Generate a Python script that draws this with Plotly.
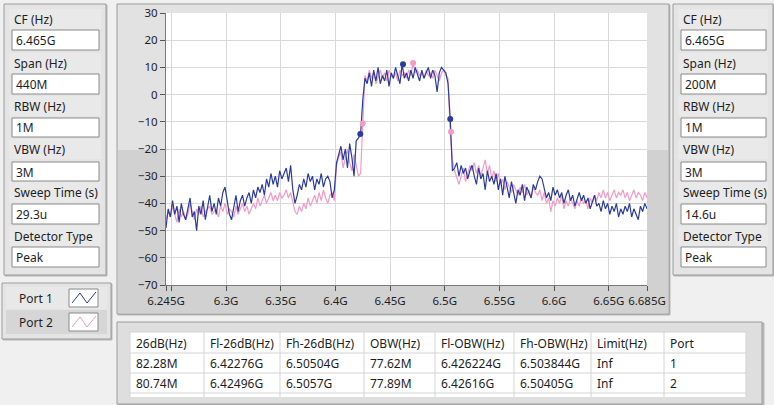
import plotly.graph_objects as go

W, H = 774, 405

# ---------------- data ----------------
f_start_ghz = 6.245
f_step_ghz = 0.002

port1_db = [
    -49, -42, -45, -39, -44, -41, -47, -40, -44, -46,
    -42, -38, -45, -43, -50, -41, -44, -39, -46, -42,
    -37, -43, -40, -44, -38, -41, -36, -34, -39, -44,
    -46, -41, -37, -43, -39, -37, -41, -38, -36, -40,
    -35, -38, -34, -36, -33, -37, -31, -34, -29, -33,
    -30, -34, -28, -31, -29, -27, -32, -26, -35, -40,
    -37, -33, -35, -31, -34, -29, -32, -30, -35, -31,
    -33, -29, -34, -31, -30, -32, -38, -35, -25, -22,
    -19, -24, -20, -27, -18, -23, -30, -17, -16, -14.5,
    -2, 6, 4, 8, 3, 9, 5, 10, 4, 7,
    5, 9, 3, 8, 6, 10, 7, 4, 11.2, 6,
    8, 5, 9, 6, 10, 7, 5, 9, 6, 8,
    10, 6, 9, 7, 1, 8, 10, 9, 8, 4,
    -9, -28, -27, -25, -30, -26, -29, -27, -31, -28,
    -26, -30, -33, -27, -31, -29, -35, -28, -32, -30,
    -33, -29, -35, -31, -37, -30, -34, -38, -32, -36,
    -40, -35, -37, -33, -39, -34, -36, -38, -33, -35,
    -32, -30, -31, -35, -38, -36, -39, -34, -37, -35,
    -38, -36, -40, -37, -35, -39, -37, -41, -38, -36,
    -39, -37, -40, -38, -42, -39, -37, -41, -40, -43,
    -39, -42, -40, -44, -41, -43, -40, -45, -42, -44,
    -41, -43, -40, -45, -42, -44, -46, -41, -43, -40, -42,
]

port2_db = [
    -46, -43, -45, -41, -44, -47, -42, -45, -43, -46,
    -44, -40, -43, -46, -42, -44, -41, -45, -43, -42,
    -41, -44, -43, -42, -45, -41, -43, -40, -44, -42,
    -43, -45, -41, -44, -42, -40, -43, -41, -44, -42,
    -40, -42, -38, -41, -39, -37, -40, -38, -36, -39,
    -37, -39, -36, -38, -37, -35, -38, -36, -40, -43,
    -44, -41, -43, -40, -42, -38, -41, -39, -37, -40,
    -36, -39, -35, -38, -40, -37, -36, -39, -26, -23,
    -21, -27, -23, -20, -25, -28, -22, -26, -30, -29,
    -10.6, 7, 5, 9, 6, 8, 4, 7, 9, 6,
    8, 5, 9, 7, 6, 8, 5, 9, 7, 8,
    6, 9, 7, 11.6, 8, 9, 7, 8, 6, 9,
    7, 8, 6, 9, 7, 5, 8, 9, 7, 6,
    -13.7, -24, -28, -31, -33, -30, -27, -32, -29, -26,
    -28, -25, -29, -26, -30, -27, -24, -29, -26, -31,
    -28, -32, -29, -33, -31, -35, -32, -34, -36, -33,
    -35, -37, -34, -36, -33, -37, -35, -38, -34, -36,
    -37, -35, -39, -36, -40, -38, -43, -39, -41, -38,
    -40, -37, -42, -39, -41, -38, -40, -42, -39, -41,
    -38, -40, -39, -42, -38, -40, -37, -39, -36, -38,
    -35, -38, -36, -39, -37, -35, -38, -36, -37, -35,
    -38, -36, -39, -37, -35, -38, -36, -37, -39, -36, -38,
]

port1_marker_ghz = [6.42276, 6.4618, 6.50504]
port1_marker_db = [-14.5, 11.2, -9]
port2_marker_ghz = [6.42496, 6.471, 6.5057]
port2_marker_db = [-10.6, 11.6, -13.7]

x_tick_vals = [6.245, 6.25, 6.3, 6.35, 6.4, 6.45, 6.5, 6.55, 6.6, 6.65, 6.685]
x_tick_text = ["6.245G", "", "6.3G", "6.35G", "6.4G", "6.45G", "6.5G", "6.55G", "6.6G", "6.65G", "6.685G"]
y_tick_vals = [30, 20, 10, 0, -10, -20, -30, -40, -50, -60, -70]

left_labels = ["CF (Hz)", "Span (Hz)", "RBW (Hz)", "VBW (Hz)", "Sweep Time (s)", "Detector Type"]
left_values = ["6.465G", "440M", "1M", "3M", "29.3u", "Peak"]
right_values = ["6.465G", "200M", "1M", "3M", "14.6u", "Peak"]

legend_names = ["Port 1", "Port 2"]

table_headers = ["26dB(Hz)", "Fl-26dB(Hz)", "Fh-26dB(Hz)", "OBW(Hz)", "Fl-OBW(Hz)", "Fh-OBW(Hz)", "Limit(Hz)", "Port"]
table_row1 = ["82.28M", "6.42276G", "6.50504G", "77.62M", "6.426224G", "6.503844G", "Inf", "1"]
table_row2 = ["80.74M", "6.42496G", "6.5057G", "77.89M", "6.42616G", "6.50405G", "Inf", "2"]

# ---------------- styling ----------------
BLUE = "#2c3c9e"
PINK = "#f49ac4"
FONT = "Noto Sans"
TXT = "#1e1e1e"


def X(px):
    return px / W


def Y(py):
    return 1 - py / H


shapes = []
annots = []


def rect(x0, y0, x1, y1, fill, line="#a0a0a0", lw=1, layer="below"):
    shapes.append(dict(type="rect", xref="paper", yref="paper",
                       x0=X(x0), x1=X(x1), y0=Y(y1), y1=Y(y0),
                       fillcolor=fill, line=dict(color=line, width=lw), layer=layer))


def hline(x0, x1, y, color, lw=1):
    shapes.append(dict(type="line", xref="paper", yref="paper",
                       x0=X(x0), x1=X(x1), y0=Y(y), y1=Y(y),
                       line=dict(color=color, width=lw), layer="above"))


def vline(x, y0, y1, color, lw=1):
    shapes.append(dict(type="line", xref="paper", yref="paper",
                       x0=X(x), x1=X(x), y0=Y(y0), y1=Y(y1),
                       line=dict(color=color, width=lw), layer="above"))


def text(x, y, s, size=12, anchor="left"):
    annots.append(dict(xref="paper", yref="paper", x=X(x), y=Y(y), text=s,
                       showarrow=False, xanchor=anchor, yanchor="middle",
                       font=dict(family=FONT, size=size, color=TXT)))


# ---- side control panels ----
label_y = [19, 63, 106, 149, 192, 236]
box_y = [(30, 50), (74, 94), (118, 137), (162, 181), (204, 224), (247, 267)]


def panel(x0, x1, values):
    rect(x0 + 1, y0_panel + 1, x1 + 1, y1_panel + 1, "#b8b8b8", line="#b8b8b8")
    rect(x0, y0_panel, x1, y1_panel, "#e4e4e4", line="#9c9c9c")
    for ly, lab in zip(label_y, left_labels):
        rect(x0 + 5, ly - 10, x1 - 5, ly + 10, "#e9e9e9", line="#e9e9e9", lw=0)
        text(x0 + 8, ly, lab)
    for (b0, b1), v in zip(box_y, values):
        rect(x0 + 8, b0, x1 - 7, b1, "#ffffff", line="#8a8a8a", layer="above")
        text(x0 + 10, (b0 + b1) / 2 + 0.5, v)


y0_panel, y1_panel = 4, 275
panel(4, 106, left_values)
panel(673, 773, right_values)

# ---- graph frame ----
rect(118, 5, 670, 315, "#b8b8b8", line="#b8b8b8")
rect(117, 4, 669, 314, "#e2e2e2", line="#9c9c9c")
rect(118, 150, 668, 313, "#d1d1d1", line="#d1d1d1", lw=0)
rect(166, 13, 647, 285, "#ffffff", line="#ffffff", lw=0)

# ---- legend panel ----
rect(3, 284, 112, 340, "#b8b8b8", line="#b8b8b8")
rect(2, 283, 111, 339, "#e4e4e4", line="#9c9c9c")
rect(6, 287, 107, 309, "#e8e8e8", line="#e8e8e8", lw=0)
rect(6, 310, 107, 334, "#d6d6d6", line="#d6d6d6", lw=0)
for i, (name, col) in enumerate(zip(legend_names, [BLUE, PINK])):
    cy = 298 + 24 * i
    text(17, cy, name)
    rect(69, cy - 9, 98, cy + 9, "#ffffff", line="#8a8a8a", layer="above")
    pts = [(72, cy + 5), (80, cy - 5), (87, cy + 5), (96, cy - 6)]
    path = "M " + " L ".join(f"{X(px)},{Y(py)}" for px, py in pts)
    shapes.append(dict(type="path", xref="paper", yref="paper", path=path,
                       line=dict(color=col, width=1), layer="above"))

# ---- table panel ----
rect(118, 323, 764, 406, "#b8b8b8", line="#b8b8b8")
rect(117, 322, 762, 404, "#dedede", line="#9c9c9c")
col_edges = [130, 204, 280, 364, 435, 514, 591, 664, 746]
row_edges = [332, 353, 373, 393]
rect(col_edges[0], row_edges[0], col_edges[-1], 397, "#ffffff", line="#ffffff", lw=0, layer="above")
for ry in row_edges:
    hline(col_edges[0], col_edges[-1], ry, "#d4d4d4")
for cx in col_edges:
    vline(cx, row_edges[0], 397, "#d4d4d4")
for r, row in enumerate([table_headers, table_row1, table_row2]):
    cy = (row_edges[r] + row_edges[r + 1]) / 2 + 0.5
    for c, s in enumerate(row):
        text(col_edges[c] + 4, cy, s)

# ---------------- traces ----------------
freqs1 = [round(f_start_ghz + f_step_ghz * i, 6) for i in range(len(port1_db))]
freqs2 = [round(f_start_ghz + f_step_ghz * i, 6) for i in range(len(port2_db))]

fig = go.Figure()
fig.add_trace(go.Scatter(x=freqs2, y=port2_db, mode="lines", name="Port 2",
                         line=dict(color=PINK, width=1.2)))
fig.add_trace(go.Scatter(x=freqs1, y=port1_db, mode="lines", name="Port 1",
                         line=dict(color=BLUE, width=1.2)))
fig.add_trace(go.Scatter(x=port2_marker_ghz, y=port2_marker_db, mode="markers",
                         marker=dict(color=PINK, size=6), showlegend=False))
fig.add_trace(go.Scatter(x=port1_marker_ghz, y=port1_marker_db, mode="markers",
                         marker=dict(color=BLUE, size=6), showlegend=False))

fig.update_layout(
    template="none",
    width=W, height=H, autosize=False,
    margin=dict(l=0, r=0, t=0, b=0, pad=0, autoexpand=False),
    paper_bgcolor="#f0f0f0",
    plot_bgcolor="rgba(0,0,0,0)",
    showlegend=False,
    font=dict(family=FONT, size=12, color=TXT),
    shapes=shapes,
    annotations=annots,
    xaxis=dict(domain=[X(166), X(647)], range=[6.245, 6.685], automargin=False,
               tickvals=x_tick_vals, ticktext=x_tick_text, tickangle=0,
               showgrid=True, gridcolor="#d9d9d9", gridwidth=1,
               zeroline=False, showline=True, linecolor="#7a7a7a",
               ticks="outside", ticklen=5, tickcolor="#555555",
               tickfont=dict(family=FONT, size=11.5, color=TXT)),
    yaxis=dict(domain=[Y(285), Y(13)], range=[-70, 30], automargin=False,
               tickvals=y_tick_vals,
               showgrid=True, gridcolor="#d9d9d9", gridwidth=1,
               zeroline=False, showline=True, linecolor="#7a7a7a",
               ticks="outside", ticklen=5, tickcolor="#555555",
               tickfont=dict(family=FONT, size=11.5, color=TXT)),
)

page_fix = ("document.documentElement.style.margin='0';"
            "document.body.style.margin='0';"
            "document.body.style.padding='0';"
            "document.body.style.overflow='hidden';"
            "document.documentElement.style.overflow='hidden';")

fig.write_html("out.html", config={"displayModeBar": False}, post_script=page_fix)
